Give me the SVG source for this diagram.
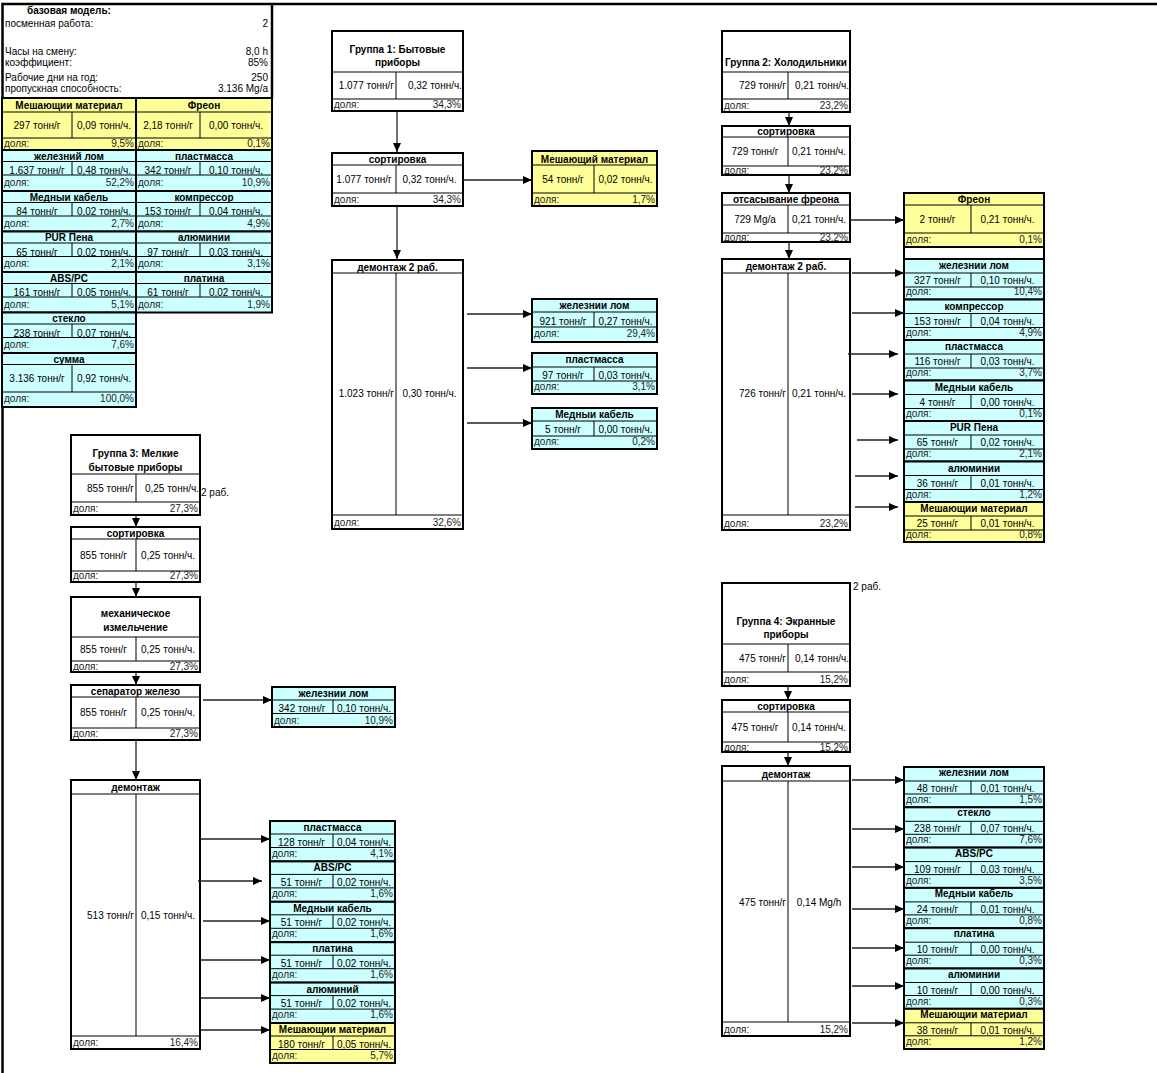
<svg xmlns="http://www.w3.org/2000/svg" width="1157" height="1073" viewBox="0 0 1157 1073">
<style>
.bx{fill:#fff;stroke:#000;stroke-width:2}
.cy{fill:#ccffff;stroke:#000;stroke-width:2}
.yl{fill:#ffff99;stroke:#000;stroke-width:2}
.in{stroke:#000;stroke-width:1;fill:none}
text{font-family:"Liberation Sans",Arial,sans-serif;font-size:10px;fill:#000}
.b{font-weight:bold}
.m{text-anchor:middle}
.e{text-anchor:end}
.d{fill:#222}
.cn line{stroke:#222;stroke-width:1.3;marker-end:url(#ah)}
</style>
<defs>
<marker id="ah" markerUnits="userSpaceOnUse" markerWidth="9" markerHeight="8" refX="9" refY="4" orient="auto"><path d="M0,0 L9,4 L0,8 z" fill="#000"/></marker>
</defs>
<rect width="1157" height="1073" fill="#fff"/>
<path d="M2.5 1073 V4 H1157 M272 4 V98" stroke="#000" stroke-width="2.5" fill="none"/>

<g id="legend">
<text class="b" x="27" y="14">базовая  модель:</text>
<text x="5" y="27">посменная  работа:</text><text class="e" x="268" y="27">2</text>
<text x="5" y="55">Часы на смену:</text><text class="e" x="268" y="55">8,0 h</text>
<text x="5" y="65.5">коэффициент:</text><text class="e" x="268" y="65.5">85%</text>
<text x="5" y="81">Рабочие дни на год:</text><text class="e" x="268" y="81">250</text>
<text x="5" y="92">пропускная  способность:</text><text class="e" x="268" y="92">3.136 Mg/a</text>

<rect class="yl" x="2" y="98" width="134" height="52"/>
<path class="in" d="M2 112 H136 M2 138 H136 M72 112 V138"/>
<text class="b m" x="69" y="108.5">Мешающии материал</text>
<text class="m" x="37" y="128.5">297 тонн/г</text><text class="m" x="104" y="128.5">0,09 тонн/ч.</text>
<text class="d" x="4" y="147">доля:</text><text class="d e" x="134" y="147">9,5%</text>
<rect class="yl" x="136" y="98" width="136" height="52"/>
<path class="in" d="M136 112 H272 M136 138 H272 M200 112 V138"/>
<text class="b m" x="204" y="108.5">Фреон</text>
<text class="m" x="168" y="128.5">2,18 тонн/г</text><text class="m" x="236" y="128.5">0,00 тонн/ч.</text>
<text class="d" x="138" y="147">доля:</text><text class="d e" x="270" y="147">0,1%</text>

<rect class="cy" x="2" y="150" width="134" height="41"/>
<path class="in" d="M2 161.5 H136 M2 175 H136 M72 161.5 V175"/>
<text class="b m" x="69" y="159.5">железний  лом</text>
<text class="m" x="37" y="174">1.637 тонн/г</text><text class="m" x="104" y="174">0,48 тонн/ч.</text>
<text class="d" x="4" y="185.5">доля:</text><text class="d e" x="134" y="185.5">52,2%</text>
<rect class="cy" x="136" y="150" width="136" height="41"/>
<path class="in" d="M136 161.5 H272 M136 175 H272 M200 161.5 V175"/>
<text class="b m" x="204" y="159.5">пластмасса</text>
<text class="m" x="168" y="174">342 тонн/г</text><text class="m" x="236" y="174">0,10 тонн/ч.</text>
<text class="d" x="138" y="185.5">доля:</text><text class="d e" x="270" y="185.5">10,9%</text>

<rect class="cy" x="2" y="191" width="134" height="40.5"/>
<path class="in" d="M2 202.5 H136 M2 216 H136 M72 202.5 V216"/>
<text class="b m" x="69" y="200.5">Медныи кабель</text>
<text class="m" x="37" y="215">84 тонн/г</text><text class="m" x="104" y="215">0,02 тонн/ч.</text>
<text class="d" x="4" y="226.5">доля:</text><text class="d e" x="134" y="226.5">2,7%</text>
<rect class="cy" x="136" y="191" width="136" height="40.5"/>
<path class="in" d="M136 202.5 H272 M136 216 H272 M200 202.5 V216"/>
<text class="b m" x="204" y="200.5">компрессор</text>
<text class="m" x="168" y="215">153 тонн/г</text><text class="m" x="236" y="215">0,04 тонн/ч.</text>
<text class="d" x="138" y="226.5">доля:</text><text class="d e" x="270" y="226.5">4,9%</text>

<rect class="cy" x="2" y="231.5" width="134" height="40.5"/>
<path class="in" d="M2 243 H136 M2 256.5 H136 M72 243 V256.5"/>
<text class="b m" x="69" y="241">PUR Пена</text>
<text class="m" x="37" y="255.5">65 тонн/г</text><text class="m" x="104" y="255.5">0,02 тонн/ч.</text>
<text class="d" x="4" y="267">доля:</text><text class="d e" x="134" y="267">2,1%</text>
<rect class="cy" x="136" y="231.5" width="136" height="40.5"/>
<path class="in" d="M136 243 H272 M136 256.5 H272 M200 243 V256.5"/>
<text class="b m" x="204" y="241">алюминии</text>
<text class="m" x="168" y="255.5">97 тонн/г</text><text class="m" x="236" y="255.5">0,03 тонн/ч.</text>
<text class="d" x="138" y="267">доля:</text><text class="d e" x="270" y="267">3,1%</text>

<rect class="cy" x="2" y="272" width="134" height="40.5"/>
<path class="in" d="M2 283.5 H136 M2 297 H136 M72 283.5 V297"/>
<text class="b m" x="69" y="281.5">ABS/PC</text>
<text class="m" x="37" y="296">161 тонн/г</text><text class="m" x="104" y="296">0,05 тонн/ч.</text>
<text class="d" x="4" y="307.5">доля:</text><text class="d e" x="134" y="307.5">5,1%</text>
<rect class="cy" x="136" y="272" width="136" height="40.5"/>
<path class="in" d="M136 283.5 H272 M136 297 H272 M200 283.5 V297"/>
<text class="b m" x="204" y="281.5">платина</text>
<text class="m" x="168" y="296">61 тонн/г</text><text class="m" x="236" y="296">0,02 тонн/ч.</text>
<text class="d" x="138" y="307.5">доля:</text><text class="d e" x="270" y="307.5">1,9%</text>

<rect class="cy" x="2" y="312.5" width="134" height="40.5"/>
<path class="in" d="M2 324 H136 M2 337.5 H136 M72 324 V337.5"/>
<text class="b m" x="69" y="322">стекло</text>
<text class="m" x="37" y="336.5">238 тонн/г</text><text class="m" x="104" y="336.5">0,07 тонн/ч.</text>
<text class="d" x="4" y="348">доля:</text><text class="d e" x="134" y="348">7,6%</text>

<rect class="cy" x="2" y="353" width="134" height="54"/>
<path class="in" d="M2 364.5 H136 M2 392 H136 M72 364.5 V392"/>
<text class="b m" x="69" y="362.5">сумма</text>
<text class="m" x="37" y="381.5">3.136 тонн/г</text><text class="m" x="104" y="381.5">0,92 тонн/ч.</text>
<text class="d" x="4" y="402">доля:</text><text class="d e" x="134" y="402">100,0%</text>
</g>

<!-- Group 1 -->
<g id="g1-title">
<rect class="bx" x="332" y="31" width="131" height="80"/>
<path class="in" d="M332 72 H463 M332 99 H463 M396 72 V99"/>
<text class="b m" x="397.5" y="53">Группа 1: Бытовые</text>
<text class="b m" x="397.5" y="66">приборы</text>
<text class="e" x="394" y="89">1.077 тонн/г</text><text class="e" x="462" y="89">0,32 тонн/ч.</text>
<text class="d" x="334" y="107.5">доля:</text><text class="d e" x="461" y="107.5">34,3%</text>
</g>
<g id="g1-sort">
<rect class="bx" x="332" y="153" width="131" height="53"/>
<path class="in" d="M332 165 H463 M332 193 H463 M396 165 V193"/>
<text class="b m" x="397.5" y="162.5">сортировка</text>
<text class="m" x="364" y="182.5">1.077 тонн/г</text><text class="m" x="429.5" y="182.5">0,32 тонн/ч.</text>
<text class="d" x="334" y="202.5">доля:</text><text class="d e" x="461" y="202.5">34,3%</text>
</g>
<g id="g1-mix">
<rect class="yl" x="532" y="151" width="125" height="55"/>
<path class="in" d="M532 165 H657 M532 193 H657 M594 165 V193"/>
<text class="b m" x="594.5" y="162.5">Мешающий материал</text>
<text class="m" x="563" y="182.5">54 тонн/г</text><text class="m" x="625.5" y="182.5">0,02 тонн/ч.</text>
<text class="d" x="534" y="202.5">доля:</text><text class="d e" x="655" y="202.5">1,7%</text>
</g>
<g id="g1-dis">
<rect class="bx" x="332" y="260" width="131" height="269"/>
<path class="in" d="M332 273 H463 M332 515 H463 M396 273 V515"/>
<text class="b m" x="397.5" y="270.5">демонтаж 2 раб.</text>
<text class="e" x="394" y="397">1.023 тонн/г</text><text class="m" x="429.5" y="397">0,30 тонн/ч.</text>
<text class="d" x="334" y="525.5">доля:</text><text class="d e" x="461" y="525.5">32,6%</text>
</g>
<g id="g1-fe">
<rect class="cy" x="532" y="299" width="125" height="43"/>
<path class="in" d="M532 312 H657 M532 327 H657 M594 312 V327"/>
<text class="b m" x="594.5" y="308.5">железнии  лом</text>
<text class="m" x="563" y="324.5">921 тонн/г</text><text class="m" x="625.5" y="324.5">0,27 тонн/ч.</text>
<text class="d" x="534" y="336.5">доля:</text><text class="d e" x="655" y="336.5">29,4%</text>
</g>
<g id="g1-pl">
<rect class="cy" x="532" y="353" width="125" height="41"/>
<path class="in" d="M532 367 H657 M532 381 H657 M594 367 V381"/>
<text class="b m" x="594.5" y="362.5">пластмасса</text>
<text class="m" x="563" y="378.5">97 тонн/г</text><text class="m" x="625.5" y="378.5">0,03 тонн/ч.</text>
<text class="d" x="534" y="390">доля:</text><text class="d e" x="655" y="390">3,1%</text>
</g>
<g id="g1-cu">
<rect class="cy" x="532" y="408" width="125" height="41"/>
<path class="in" d="M532 421 H657 M532 436 H657 M594 421 V436"/>
<text class="b m" x="594.5" y="417.5">Медныи кабель</text>
<text class="m" x="563" y="433">5 тонн/г</text><text class="m" x="625.5" y="433">0,00 тонн/ч.</text>
<text class="d" x="534" y="445">доля:</text><text class="d e" x="655" y="445">0,2%</text>
</g>

<!-- Group 2 -->
<g id="g2-title">
<rect class="bx" x="722" y="31" width="128" height="81"/>
<path class="in" d="M722 72 H850 M722 99 H850 M788 72 V99"/>
<text class="b m" x="786" y="66">Группа 2: Холодильники</text>
<text class="e" x="786" y="89">729 тонн/г</text><text class="e" x="849" y="89">0,21 тонн/ч.</text>
<text class="d" x="724" y="108.5">доля:</text><text class="d e" x="848" y="108.5">23,2%</text>
</g>
<g id="g2-sort">
<rect class="bx" x="722" y="126" width="128" height="49"/>
<path class="in" d="M722 137 H850 M722 166 H850 M788 137 V166"/>
<text class="b m" x="786" y="134.5">сортировка</text>
<text class="m" x="755" y="155">729 тонн/г</text><text class="m" x="819" y="155">0,21 тонн/ч.</text>
<text class="d" x="724" y="174">доля:</text><text class="d e" x="848" y="174">23,2%</text>
</g>
<g id="g2-suck">
<rect class="bx" x="722" y="193" width="128" height="49"/>
<path class="in" d="M722 205 H850 M722 233 H850 M788 205 V233"/>
<text class="b m" x="786" y="202.5">отсасывание фреона</text>
<text class="m" x="755" y="222.5">729 Mg/a</text><text class="m" x="819" y="222.5">0,21 тонн/ч.</text>
<text class="d" x="724" y="241">доля:</text><text class="d e" x="848" y="241">23,2%</text>
</g>
<g id="g2-freon">
<rect class="yl" x="904" y="193" width="140" height="54"/>
<path class="in" d="M904 205 H1044 M904 233 H1044 M971 205 V233"/>
<text class="b m" x="974" y="202.5">Фреон</text>
<text class="m" x="937.5" y="222.5">2 тонн/г</text><text class="m" x="1007.5" y="222.5">0,21 тонн/ч.</text>
<text class="d" x="906" y="243">доля:</text><text class="d e" x="1042" y="243">0,1%</text>
<path d="M904 247 V259 M1044 247 V259" stroke="#000" stroke-width="2"/>
</g>
<g id="g2-dis">
<rect class="bx" x="722" y="259" width="128" height="271"/>
<path class="in" d="M722 273 H850 M722 515 H850 M788 273 V515"/>
<text class="b m" x="786" y="270">демонтаж 2 раб.</text>
<text class="e" x="786" y="397">726 тонн/г</text><text class="m" x="819" y="397">0,21 тонн/ч.</text>
<text class="d" x="724" y="526.5">доля:</text><text class="d e" x="848" y="526.5">23,2%</text>
</g>
<g id="g2-fe">
<rect class="cy" x="904" y="259" width="140" height="40.5"/>
<path class="in" d="M904 273 H1044 M904 287 H1044 M971 273 V287"/>
<text class="b m" x="974" y="269">железнии  лом</text>
<text class="m" x="937.5" y="284">327 тонн/г</text><text class="m" x="1007.5" y="284">0,10 тонн/ч.</text>
<text class="d" x="906" y="295">доля:</text><text class="d e" x="1042" y="295">10,4%</text>
</g>
<g id="g2-comp">
<rect class="cy" x="904" y="299.5" width="140" height="40.5"/>
<path class="in" d="M904 313.5 H1044 M904 327.5 H1044 M971 313.5 V327.5"/>
<text class="b m" x="974" y="309.5">компрессор</text>
<text class="m" x="937.5" y="324.5">153 тонн/г</text><text class="m" x="1007.5" y="324.5">0,04 тонн/ч.</text>
<text class="d" x="906" y="335.5">доля:</text><text class="d e" x="1042" y="335.5">4,9%</text>
</g>
<g id="g2-pl">
<rect class="cy" x="904" y="340" width="140" height="40.5"/>
<path class="in" d="M904 354 H1044 M904 368 H1044 M971 354 V368"/>
<text class="b m" x="974" y="350">пластмасса</text>
<text class="m" x="937.5" y="365">116 тонн/г</text><text class="m" x="1007.5" y="365">0,03 тонн/ч.</text>
<text class="d" x="906" y="376">доля:</text><text class="d e" x="1042" y="376">3,7%</text>
</g>
<g id="g2-cu">
<rect class="cy" x="904" y="380.5" width="140" height="40.5"/>
<path class="in" d="M904 394.5 H1044 M904 408.5 H1044 M971 394.5 V408.5"/>
<text class="b m" x="974" y="390.5">Медныи кабель</text>
<text class="m" x="937.5" y="405.5">4 тонн/г</text><text class="m" x="1007.5" y="405.5">0,00 тонн/ч.</text>
<text class="d" x="906" y="416.5">доля:</text><text class="d e" x="1042" y="416.5">0,1%</text>
</g>
<g id="g2-pur">
<rect class="cy" x="904" y="421" width="140" height="40.5"/>
<path class="in" d="M904 435 H1044 M904 449 H1044 M971 435 V449"/>
<text class="b m" x="974" y="431">PUR Пена</text>
<text class="m" x="937.5" y="446">65 тонн/г</text><text class="m" x="1007.5" y="446">0,02 тонн/ч.</text>
<text class="d" x="906" y="457">доля:</text><text class="d e" x="1042" y="457">2,1%</text>
</g>
<g id="g2-al">
<rect class="cy" x="904" y="461.5" width="140" height="40.5"/>
<path class="in" d="M904 475.5 H1044 M904 489.5 H1044 M971 475.5 V489.5"/>
<text class="b m" x="974" y="471.5">алюминии</text>
<text class="m" x="937.5" y="486.5">36 тонн/г</text><text class="m" x="1007.5" y="486.5">0,01 тонн/ч.</text>
<text class="d" x="906" y="497.5">доля:</text><text class="d e" x="1042" y="497.5">1,2%</text>
</g>
<g id="g2-mix">
<rect class="yl" x="904" y="502" width="140" height="40"/>
<path class="in" d="M904 516 H1044 M904 530 H1044 M971 516 V530"/>
<text class="b m" x="974" y="512">Мешающии материал</text>
<text class="m" x="937.5" y="527">25 тонн/г</text><text class="m" x="1007.5" y="527">0,01 тонн/ч.</text>
<text class="d" x="906" y="538">доля:</text><text class="d e" x="1042" y="538">0,8%</text>
</g>

<!-- Group 3 -->
<text x="201" y="496">2 раб.</text>
<g id="g3-title">
<rect class="bx" x="71" y="435" width="129" height="80"/>
<path class="in" d="M71 474 H200 M71 502 H200 M136 474 V502"/>
<text class="b m" x="135.5" y="457">Группа 3: Мелкие</text>
<text class="b m" x="135.5" y="470.5">бытовые приборы</text>
<text class="e" x="134" y="491.5">855 тонн/г</text><text class="e" x="199" y="491.5">0,25 тонн/ч.</text>
<text class="d" x="73" y="512">доля:</text><text class="d e" x="198" y="512">27,3%</text>
</g>
<g id="g3-sort">
<rect class="bx" x="71" y="527" width="129" height="55"/>
<path class="in" d="M71 539 H200 M71 571 H200 M136 539 V571"/>
<text class="b m" x="135.5" y="536.5">сортировка</text>
<text class="m" x="103.5" y="558.5">855 тонн/г</text><text class="m" x="168" y="558.5">0,25 тонн/ч.</text>
<text class="d" x="73" y="579">доля:</text><text class="d e" x="198" y="579">27,3%</text>
</g>
<g id="g3-mech">
<rect class="bx" x="71" y="597" width="129" height="75"/>
<path class="in" d="M71 637 H200 M71 661 H200 M136 637 V661"/>
<text class="b m" x="135.5" y="617">механическое</text>
<text class="b m" x="135.5" y="631">измельчение</text>
<text class="m" x="103.5" y="652.5">855 тонн/г</text><text class="m" x="168" y="652.5">0,25 тонн/ч.</text>
<text class="d" x="73" y="669.5">доля:</text><text class="d e" x="198" y="669.5">27,3%</text>
</g>
<g id="g3-sep">
<rect class="bx" x="71" y="685" width="129" height="55"/>
<path class="in" d="M71 697 H200 M71 728 H200 M136 697 V728"/>
<text class="b m" x="135.5" y="694.5">сепаратор железо</text>
<text class="m" x="103.5" y="716">855 тонн/г</text><text class="m" x="168" y="716">0,25 тонн/ч.</text>
<text class="d" x="73" y="737">доля:</text><text class="d e" x="198" y="737">27,3%</text>
</g>
<g id="g3-fe">
<rect class="cy" x="272" y="687" width="123" height="40"/>
<path class="in" d="M272 700 H395 M272 713.5 H395 M333 700 V713.5"/>
<text class="b m" x="333.5" y="697">железнии  лом</text>
<text class="m" x="302" y="711.5">342 тонн/г</text><text class="m" x="364" y="711.5">0,10 тонн/ч.</text>
<text class="d" x="274" y="723.5">доля:</text><text class="d e" x="393" y="723.5">10,9%</text>
</g>
<g id="g3-dis">
<rect class="bx" x="71" y="780" width="129" height="269"/>
<path class="in" d="M71 794 H200 M71 1036 H200 M136 794 V1036"/>
<text class="b m" x="135.5" y="791">демонтаж</text>
<text class="e" x="134" y="918.5">513 тонн/г</text><text class="m" x="168" y="918.5">0,15 тонн/ч.</text>
<text class="d" x="73" y="1046">доля:</text><text class="d e" x="198" y="1046">16,4%</text>
</g>
<g id="g3-pl">
<rect class="cy" x="270" y="821" width="125" height="40.4"/>
<path class="in" d="M270 834 H395 M270 847.5 H395 M333 834 V847.5"/>
<text class="b m" x="332.5" y="831">пластмасса</text>
<text class="m" x="301.5" y="845.5">128 тонн/г</text><text class="m" x="364" y="845.5">0,04 тонн/ч.</text>
<text class="d" x="272" y="856.5">доля:</text><text class="d e" x="393" y="856.5">4,1%</text>
</g>
<g id="g3-abs">
<rect class="cy" x="270" y="861.4" width="125" height="40.4"/>
<path class="in" d="M270 874.4 H395 M270 887.9 H395 M333 874.4 V887.9"/>
<text class="b m" x="332.5" y="871.4">ABS/PC</text>
<text class="m" x="301.5" y="885.9">51 тонн/г</text><text class="m" x="364" y="885.9">0,02 тонн/ч.</text>
<text class="d" x="272" y="896.9">доля:</text><text class="d e" x="393" y="896.9">1,6%</text>
</g>
<g id="g3-cu">
<rect class="cy" x="270" y="901.8" width="125" height="40.4"/>
<path class="in" d="M270 914.8 H395 M270 928.3 H395 M333 914.8 V928.3"/>
<text class="b m" x="332.5" y="911.8">Медныи кабель</text>
<text class="m" x="301.5" y="926.3">51 тонн/г</text><text class="m" x="364" y="926.3">0,02 тонн/ч.</text>
<text class="d" x="272" y="937.3">доля:</text><text class="d e" x="393" y="937.3">1,6%</text>
</g>
<g id="g3-pt">
<rect class="cy" x="270" y="942.2" width="125" height="40.4"/>
<path class="in" d="M270 955.2 H395 M270 968.7 H395 M333 955.2 V968.7"/>
<text class="b m" x="332.5" y="952.2">платина</text>
<text class="m" x="301.5" y="966.7">51 тонн/г</text><text class="m" x="364" y="966.7">0,02 тонн/ч.</text>
<text class="d" x="272" y="977.7">доля:</text><text class="d e" x="393" y="977.7">1,6%</text>
</g>
<g id="g3-al">
<rect class="cy" x="270" y="982.6" width="125" height="40.4"/>
<path class="in" d="M270 995.6 H395 M270 1009.1 H395 M333 995.6 V1009.1"/>
<text class="b m" x="332.5" y="992.6">алюминий</text>
<text class="m" x="301.5" y="1007.1">51 тонн/г</text><text class="m" x="364" y="1007.1">0,02 тонн/ч.</text>
<text class="d" x="272" y="1018.1">доля:</text><text class="d e" x="393" y="1018.1">1,6%</text>
</g>
<g id="g3-mix">
<rect class="yl" x="270" y="1023" width="125" height="40"/>
<path class="in" d="M270 1036 H395 M270 1049.5 H395 M333 1036 V1049.5"/>
<text class="b m" x="332.5" y="1033">Мешающии материал</text>
<text class="m" x="301.5" y="1047.5">180 тонн/г</text><text class="m" x="364" y="1047.5">0,05 тонн/ч.</text>
<text class="d" x="272" y="1058.5">доля:</text><text class="d e" x="393" y="1058.5">5,7%</text>
</g>

<!-- Group 4 -->
<text x="853" y="590">2 раб.</text>
<g id="g4-title">
<rect class="bx" x="722" y="583" width="128" height="103"/>
<path class="in" d="M722 644 H850 M722 672 H850 M788 644 V672"/>
<text class="b m" x="786" y="625">Группа 4: Экранные</text>
<text class="b m" x="786" y="638">приборы</text>
<text class="e" x="786" y="661.5">475 тонн/г</text><text class="e" x="849" y="661.5">0,14 тонн/ч.</text>
<text class="d" x="724" y="683">доля:</text><text class="d e" x="848" y="683">15,2%</text>
</g>
<g id="g4-sort">
<rect class="bx" x="722" y="700" width="128" height="52"/>
<path class="in" d="M722 712 H850 M722 742 H850 M788 712 V742"/>
<text class="b m" x="786" y="709.5">сортировка</text>
<text class="m" x="755" y="730.5">475 тонн/г</text><text class="m" x="819" y="730.5">0,14 тонн/ч.</text>
<text class="d" x="724" y="750.5">доля:</text><text class="d e" x="848" y="750.5">15,2%</text>
</g>
<g id="g4-dis">
<rect class="bx" x="722" y="766" width="128" height="270"/>
<path class="in" d="M722 781 H850 M722 1022 H850 M788 781 V1022"/>
<text class="b m" x="786" y="777.5">демонтаж</text>
<text class="e" x="786" y="905.5">475 тонн/г</text><text class="m" x="819" y="905.5">0,14 Mg/h</text>
<text class="d" x="724" y="1032.5">доля:</text><text class="d e" x="848" y="1032.5">15,2%</text>
</g>
<g id="g4-fe">
<rect class="cy" x="904" y="767" width="140" height="40.3"/>
<path class="in" d="M904 781 H1044 M904 794 H1044 M971 781 V794"/>
<text class="b m" x="974" y="776">железнии  лом</text>
<text class="m" x="937.5" y="792">48 тонн/г</text><text class="m" x="1007.5" y="792">0,01 тонн/ч.</text>
<text class="d" x="906" y="803">доля:</text><text class="d e" x="1042" y="803">1,5%</text>
</g>
<g id="g4-gl">
<rect class="cy" x="904" y="807.3" width="140" height="40.3"/>
<path class="in" d="M904 821.3 H1044 M904 834.3 H1044 M971 821.3 V834.3"/>
<text class="b m" x="974" y="816.3">стекло</text>
<text class="m" x="937.5" y="832.3">238 тонн/г</text><text class="m" x="1007.5" y="832.3">0,07 тонн/ч.</text>
<text class="d" x="906" y="843.3">доля:</text><text class="d e" x="1042" y="843.3">7,6%</text>
</g>
<g id="g4-abs">
<rect class="cy" x="904" y="847.6" width="140" height="40.3"/>
<path class="in" d="M904 861.6 H1044 M904 874.6 H1044 M971 861.6 V874.6"/>
<text class="b m" x="974" y="856.6">ABS/PC</text>
<text class="m" x="937.5" y="872.6">109 тонн/г</text><text class="m" x="1007.5" y="872.6">0,03 тонн/ч.</text>
<text class="d" x="906" y="883.6">доля:</text><text class="d e" x="1042" y="883.6">3,5%</text>
</g>
<g id="g4-cu">
<rect class="cy" x="904" y="887.9" width="140" height="40.3"/>
<path class="in" d="M904 901.9 H1044 M904 914.9 H1044 M971 901.9 V914.9"/>
<text class="b m" x="974" y="896.9">Медныи кабель</text>
<text class="m" x="937.5" y="912.9">24 тонн/г</text><text class="m" x="1007.5" y="912.9">0,01 тонн/ч.</text>
<text class="d" x="906" y="923.9">доля:</text><text class="d e" x="1042" y="923.9">0,8%</text>
</g>
<g id="g4-pt">
<rect class="cy" x="904" y="928.2" width="140" height="40.3"/>
<path class="in" d="M904 942.2 H1044 M904 955.2 H1044 M971 942.2 V955.2"/>
<text class="b m" x="974" y="937.2">платина</text>
<text class="m" x="937.5" y="953.2">10 тонн/г</text><text class="m" x="1007.5" y="953.2">0,00 тонн/ч.</text>
<text class="d" x="906" y="964.2">доля:</text><text class="d e" x="1042" y="964.2">0,3%</text>
</g>
<g id="g4-al">
<rect class="cy" x="904" y="968.5" width="140" height="40.3"/>
<path class="in" d="M904 982.5 H1044 M904 995.5 H1044 M971 982.5 V995.5"/>
<text class="b m" x="974" y="977.5">алюминии</text>
<text class="m" x="937.5" y="993.5">10 тонн/г</text><text class="m" x="1007.5" y="993.5">0,00 тонн/ч.</text>
<text class="d" x="906" y="1004.5">доля:</text><text class="d e" x="1042" y="1004.5">0,3%</text>
</g>
<g id="g4-mix">
<rect class="yl" x="904" y="1008.8" width="140" height="40.2"/>
<path class="in" d="M904 1022.8 H1044 M904 1035.8 H1044 M971 1022.8 V1035.8"/>
<text class="b m" x="974" y="1017.8">Мешающии материал</text>
<text class="m" x="937.5" y="1033.8">38 тонн/г</text><text class="m" x="1007.5" y="1033.8">0,01 тонн/ч.</text>
<text class="d" x="906" y="1044.8">доля:</text><text class="d e" x="1042" y="1044.8">1,2%</text>
</g>

<g id="connectors" class="cn">
<line x1="397" y1="111" x2="397" y2="152"/>
<line x1="397" y1="206" x2="397" y2="259"/>
<line x1="463" y1="180" x2="532" y2="180"/>
<line x1="467" y1="314" x2="532" y2="314"/>
<line x1="467" y1="368" x2="532" y2="368"/>
<line x1="467" y1="423" x2="532" y2="423"/>

<line x1="789" y1="112" x2="789" y2="126"/>
<line x1="789" y1="175" x2="789" y2="193"/>
<line x1="850" y1="220" x2="904" y2="220"/>
<line x1="789" y1="242" x2="789" y2="259"/>
<line x1="852" y1="273" x2="904" y2="273"/>
<line x1="852" y1="313" x2="904" y2="313"/>
<line x1="848" y1="354" x2="898" y2="354"/>
<line x1="852" y1="394" x2="898" y2="394"/>
<line x1="857" y1="440" x2="898" y2="440"/>
<line x1="855" y1="476" x2="898" y2="476"/>
<line x1="855" y1="507" x2="898" y2="507"/>

<line x1="136" y1="515" x2="136" y2="527"/>
<line x1="136" y1="582" x2="136" y2="597"/>
<line x1="136" y1="672" x2="136" y2="685"/>
<line x1="136" y1="740" x2="136" y2="780"/>
<line x1="203" y1="700" x2="272" y2="700"/>
<line x1="201" y1="839" x2="270" y2="839"/>
<line x1="198" y1="881" x2="262" y2="881"/>
<line x1="203" y1="921" x2="270" y2="921"/>
<line x1="201" y1="960" x2="270" y2="960"/>
<line x1="201" y1="998" x2="270" y2="998"/>
<line x1="201" y1="1030" x2="270" y2="1030"/>

<line x1="788" y1="686" x2="788" y2="700"/>
<line x1="788" y1="752" x2="788" y2="766"/>
<line x1="852" y1="780" x2="904" y2="780"/>
<line x1="852" y1="829" x2="904" y2="829"/>
<line x1="852" y1="867" x2="904" y2="867"/>
<line x1="852" y1="909" x2="904" y2="909"/>
<line x1="852" y1="948" x2="904" y2="948"/>
<line x1="852" y1="986" x2="904" y2="986"/>
<line x1="852" y1="1023" x2="904" y2="1023"/>
</g>
</svg>
